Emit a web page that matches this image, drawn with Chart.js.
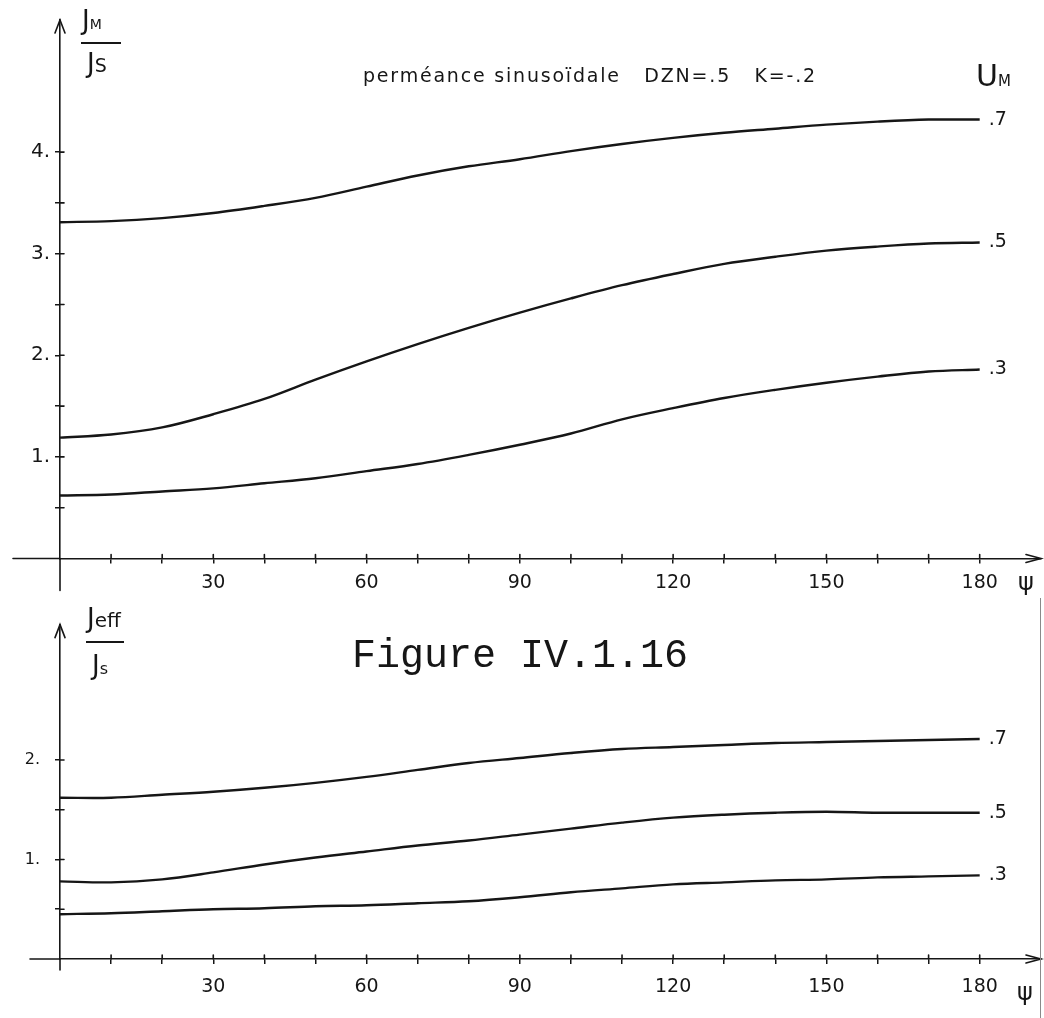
<!DOCTYPE html>
<html><head><meta charset="utf-8">
<script src="https://cdn.jsdelivr.net/npm/chart.js@4.4.1/dist/chart.umd.min.js"></script>
<style>
html,body{margin:0;padding:0;background:#fff;}
body{width:1044px;height:1018px;position:relative;overflow:hidden;font-family:'DejaVu Sans',sans-serif;color:#161616;}
canvas{position:absolute;left:0;}
.t{position:absolute;white-space:nowrap;line-height:1;}
.bar{position:absolute;height:0;border-top:2px solid #161616;}
</style></head><body>
<canvas id="c1" width="1044" height="600" style="top:0"></canvas>
<canvas id="c2" width="1044" height="418" style="top:600px"></canvas>

<div class="t" style="left:82px;top:7px;font-size:26px;">J<span style="font-size:14px">M</span></div>
<div class="bar" style="left:81px;top:42px;width:40px;"></div>
<div class="t" style="left:87px;top:50px;font-size:26px;">J<span style="font-size:19px">S</span></div>

<div class="t" style="left:363px;top:66px;font-size:19px;letter-spacing:1.8px;">perméance sinusoïdale&nbsp;&nbsp; DZN=.5&nbsp;&nbsp; K=-.2</div>
<div class="t" style="left:976px;top:61px;font-size:30px;">U<span style="font-size:15px">M</span></div>
<div class="t" style="left:1018px;top:570px;font-size:24px;">ψ</div>

<div class="t" style="left:87px;top:605px;font-size:26px;">J<span style="font-size:20px">eff</span></div>
<div class="bar" style="left:86px;top:641px;width:38px;"></div>
<div class="t" style="left:92px;top:652px;font-size:26px;">J<span style="font-size:16px">s</span></div>
<div class="t" style="left:352px;top:637px;font-size:40px;font-family:'Liberation Mono',monospace;">Figure IV.1.16</div>
<div class="t" style="left:1017px;top:980px;font-size:24px;">ψ</div>
<div style="position:absolute;left:1040px;top:598px;width:1px;height:420px;background:#8a8a8a;"></div>

<script>
// ---- data ----
const psi = [0,10,20,30,40,50,60,70,80,90,100,110,120,130,140,150,160,170,180];
const umLabels = ['.7','.5','.3'];
// top panel : J_M / J_s
const jmU7 = [3.31,3.32,3.35,3.40,3.47,3.55,3.66,3.77,3.86,3.93,4.01,4.08,4.14,4.19,4.23,4.27,4.30,4.32,4.32];
const jmU5 = [1.19,1.22,1.29,1.42,1.57,1.76,1.94,2.11,2.27,2.42,2.56,2.69,2.80,2.90,2.97,3.03,3.07,3.10,3.11];
const jmU3 = [0.62,0.63,0.66,0.69,0.74,0.79,0.86,0.93,1.02,1.12,1.23,1.37,1.48,1.58,1.66,1.73,1.79,1.84,1.86];
// bottom panel : J_eff / J_s
const jeffU7 = [1.62,1.62,1.65,1.68,1.72,1.77,1.83,1.90,1.97,2.02,2.07,2.11,2.13,2.15,2.17,2.18,2.19,2.20,2.21];
const jeffU5 = [0.78,0.77,0.80,0.87,0.95,1.02,1.08,1.14,1.19,1.25,1.31,1.37,1.42,1.45,1.47,1.48,1.47,1.47,1.47];
const jeffU3 = [0.45,0.46,0.48,0.50,0.51,0.53,0.54,0.56,0.58,0.62,0.67,0.71,0.75,0.77,0.79,0.80,0.82,0.83,0.84];
// ticks
const xTickValues = [10,20,30,40,50,60,70,80,90,100,110,120,130,140,150,160,170,180];
const xLabelValues = [30,60,90,120,150,180];
const xTickLabels = ['30','60','90','120','150','180'];
const topYTickValues = [0.5,1,1.5,2,2.5,3,3.5,4];
const topYLabelValues = [1,2,3,4];
const topYTickLabels = ['1.','2.','3.','4.'];
const botYTickValues = [0.5,1,1.5,2];
const botYLabelValues = [1,2];
const botYTickLabels = ['1.','2.'];

const INK = '#161616';

const deco = {
  id: 'deco',
  afterDraw(chart, args, o) {
    const ctx = chart.ctx, xs = chart.scales.x, ys = chart.scales.y;
    const x0 = xs.getPixelForValue(0), y0 = ys.getPixelForValue(0);
    ctx.save();
    ctx.strokeStyle = INK; ctx.lineWidth = 1.6; ctx.lineCap = 'round';
    ctx.beginPath();
    ctx.moveTo(o.extLeft, y0); ctx.lineTo(x0, y0);
    ctx.moveTo(x0, y0); ctx.lineTo(x0, y0 + o.extDown);
    const yt = ys.top;
    ctx.moveTo(x0 - 5, yt + 13); ctx.lineTo(x0, yt); ctx.lineTo(x0 + 5, yt + 13);
    const xr = xs.right;
    ctx.moveTo(xr - 15, y0 - 4); ctx.lineTo(xr, y0); ctx.lineTo(xr - 15, y0 + 4);
    xs.ticks.forEach(t => { const p = xs.getPixelForValue(t.value); ctx.moveTo(p, y0); ctx.lineTo(p, y0 - 4); });
    ys.ticks.forEach(t => { const p = ys.getPixelForValue(t.value); ctx.moveTo(x0, p); ctx.lineTo(x0 + 4, p); });
    ctx.stroke();
    ctx.fillStyle = INK; ctx.font = o.font; ctx.textBaseline = 'middle'; ctx.textAlign = 'left';
    chart.data.datasets.forEach((ds, i) => {
      const m = chart.getDatasetMeta(i); const pt = m.data[m.data.length - 1];
      ctx.fillText(ds.label, pt.x + o.labelGap, pt.y);
    });
    ctx.restore();
  }
};

function makeChart(id, series, p) {
  const datasets = series.map((arr, i) => ({
    label: umLabels[i],
    data: psi.map((x, k) => ({x: x, y: arr[k]})),
    borderColor: INK, borderWidth: 2.4, pointRadius: 0, fill: false,
    tension: 0.35
  }));
  return new Chart(document.getElementById(id), {
    type: 'line',
    data: {datasets},
    plugins: [deco],
    options: {
      responsive: false, animation: false,
      layout: {padding: {top: 20, right: 3, left: 0, bottom: 0}},
      plugins: {legend: {display: false}, tooltip: {enabled: false},
        deco: {extLeft: p.extLeft, extDown: p.extDown, font: '19px "DejaVu Sans"', labelGap: 9}},
      scales: {
        x: {
          type: 'linear', min: 0, max: 192,
          afterFit: s => { s.height = p.xHeight; },
          afterBuildTicks: s => { s.ticks = xTickValues.map(v => ({value: v})); },
          ticks: {autoSkip: false, maxRotation: 0, padding: p.xPad, color: INK,
            font: {family: 'DejaVu Sans', size: 19},
            callback: v => { const k = xLabelValues.indexOf(v); return k >= 0 ? xTickLabels[k] : ''; }},
          grid: {drawOnChartArea: false, tickLength: 5, color: INK, lineWidth: 1.5},
          border: {color: INK, width: 1.6}
        },
        y: {
          type: 'linear', min: 0, max: p.yMax,
          afterFit: s => { s.width = 60; },
          afterBuildTicks: s => { s.ticks = p.yTicks.map(v => ({value: v})); },
          ticks: {autoSkip: false, padding: p.yPad, color: INK,
            font: {family: 'DejaVu Sans', size: p.yFont},
            callback: v => { const k = p.yLabelValues.indexOf(v); return k >= 0 ? p.yLabels[k] : ''; }},
          grid: {drawOnChartArea: false, tickLength: 5, color: INK, lineWidth: 1.5},
          border: {color: INK, width: 1.6}
        }
      }
    }
  });
}

makeChart('c1', [jmU7, jmU5, jmU3], {
  yMax: 5.3, xHeight: 41.5, xPad: 8, yPad: 5, yFont: 20, extLeft: 13, extDown: 32,
  yTicks: topYTickValues, yLabelValues: topYLabelValues, yLabels: topYTickLabels
});
makeChart('c2', [jeffU7, jeffU5, jeffU3], {
  yMax: 3.36, xHeight: 59, xPad: 12, yPad: 15, yFont: 16, extLeft: 30, extDown: 11,
  yTicks: botYTickValues, yLabelValues: botYLabelValues, yLabels: botYTickLabels
});
</script>
</body></html>
